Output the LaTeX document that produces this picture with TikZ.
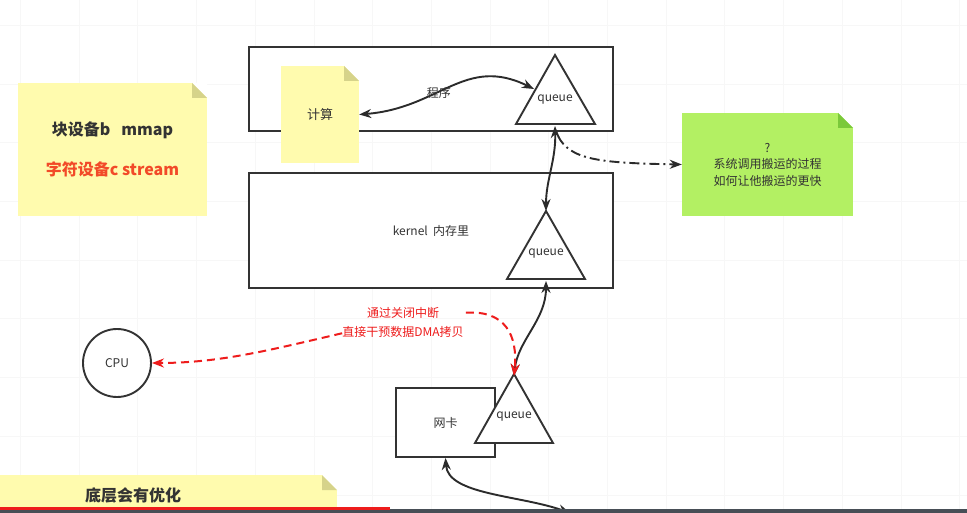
\documentclass[tikz,border=0pt]{standalone}
\usepackage{fontspec}
\setmainfont{Noto Sans CJK SC}
\usetikzlibrary{arrows.meta}

\definecolor{ink}{HTML}{333333}
\definecolor{wire}{HTML}{2B2B2B}
\definecolor{notey}{HTML}{FFFBAE}
\definecolor{foldy}{HTML}{D6D38A}
\definecolor{noteg}{HTML}{B3F063}
\definecolor{foldg}{HTML}{7BC93A}
\definecolor{redtxt}{HTML}{F24A28}
\definecolor{dmared}{HTML}{EE1C1C}
\definecolor{barc}{HTML}{474E56}

\tikzset{
  box/.style={draw=ink, line width=1.9pt, fill=white},
  tri/.style={draw=ink, line width=1.9pt, fill=white, line join=miter},
  lbl/.style={text=ink, inner sep=0pt, font=\fontsize{12}{15}\selectfont},
  note/.style 2 args={fill=#1, text=ink, inner sep=0pt,
    path picture={
      \fill[white] ([xshift=-15pt]path picture bounding box.north east)
        -- (path picture bounding box.north east)
        -- ([yshift=-15pt]path picture bounding box.north east) -- cycle;
      \fill[#2] ([xshift=-15pt]path picture bounding box.north east)
        -- ([xshift=-15pt,yshift=-15pt]path picture bounding box.north east)
        -- ([yshift=-15pt]path picture bounding box.north east) -- cycle;
    }},
  link/.style={draw=wire, line width=1.9pt},
  hint/.style={draw=dmared, line width=2pt, dash pattern=on 8pt off 5pt},
  gridline/.style={draw=black!3, line width=0.6pt}
}

\begin{document}
\begin{tikzpicture}[x=1pt,y=-1pt, >={Stealth[length=12pt,width=9pt]}]

        \useasboundingbox (0,0) rectangle (967,513);
        \fill[white] (0,0) rectangle (967,513);
        \foreach \gx in {0,...,16}
          \draw[gridline] (20.3+58.7*\gx,0) -- (20.3+58.7*\gx,513);
        \foreach \gy in {0,...,8}
          \draw[gridline] (0,25.2+58.7*\gy) -- (967,25.2+58.7*\gy);

        % boxes
        \node[box, minimum width=364, minimum height=84] (user) at (431,89) {};
        \node[box, lbl, minimum width=364, minimum height=115] (kernel) at (431,230.5) {kernel\ \ 内存里};
        \node[box, lbl, minimum width=99, minimum height=69] (nic) at (445.5,422.5) {网卡};
        \node[draw=ink, line width=1.9pt, fill=white, circle, lbl, minimum size=68] (cpu) at (117,363) {CPU};

        % notes
        \node[note={notey}{foldy}, minimum width=78, minimum height=97,
              font=\fontsize{13}{16}\selectfont] (calc) at (320,114.5) {计算};
        \node[note={noteg}{foldg}, minimum width=171, minimum height=103, align=center,
              font=\fontsize{12}{16.5}\selectfont] (why) at (767.5,164.5)
              {?\\系统调用搬运的过程\\如何让他搬运的更快};
        \node[note={notey}{foldy}, minimum width=189, minimum height=133, align=center,
              font=\bfseries\fontsize{16}{20}\selectfont] (kinds) at (112.5,149.5)
              {块设备b\ \ \ mmap\\[20pt]{\color{redtxt}字符设备c stream}};
        \node[note={notey}{foldy}, minimum width=408, minimum height=40, anchor=north,
              font=\bfseries\fontsize{16}{20}\selectfont] (opt) at (133,475) {底层会有优化};

        % queues
        \draw[tri] (555,55) coordinate (q1top) -- (595,124) -- (516,124) -- cycle;
        \coordinate (q1bot) at (555,126);
        \coordinate (q1side) at (534,89);
        \node[lbl] (q1) at (555,100) {queue};

        \draw[tri] (546,211) coordinate (q2top) -- (585,279) -- (507,279) -- cycle;
        \coordinate (q2bot) at (546,281);
        \node[lbl] (q2) at (546,254) {queue};

        \draw[tri] (514,374) coordinate (q3top) -- (553,443) -- (475,443) -- cycle;
        \node[lbl] (q3) at (514,417) {queue};

        \coordinate (bus) at (570,513);

        % connectors
        \draw[link, <->] (calc.east) .. controls (440,108) and (465,55) .. (q1side)
          node[pos=0.42, lbl, yshift=-1pt] (prog) {程序};
        \draw[link, <->] (q1bot) .. controls (556,160) and (546,180) .. (q2top);
        \draw[link, <->] (q2bot) .. controls (546,320) and (518,340) .. ([yshift=-2pt]q3top);
        \draw[link, <->] (nic.south) .. controls (448,495) and (520,495) .. (bus);
        \draw[link, ->, dash pattern=on 10pt off 4pt on 2pt off 4pt]
          (558,136) .. controls (570,160) and (600,163) .. (why.west);

        \node[text=dmared, inner sep=0pt, align=center,
              font=\fontsize{12}{19}\selectfont] (dma) at (403,322)
              {通过关闭中断\\直接干预数据DMA拷贝};
        \draw[hint, ->] ([xshift=2pt,yshift=-6pt]dma.north east)
          .. controls (505,310) and (518,335) .. ([yshift=-2pt]q3top);
        \draw[hint, ->] ([yshift=4pt]dma.south west)
          .. controls (270,350) and (220,363) .. (cpu.east);

        % bottom bar
        \fill[barc] (0,508.5) rectangle (967,513);
        \fill[dmared] (0,507) rectangle (390,509.5);

      \end{tikzpicture}
\end{document}
